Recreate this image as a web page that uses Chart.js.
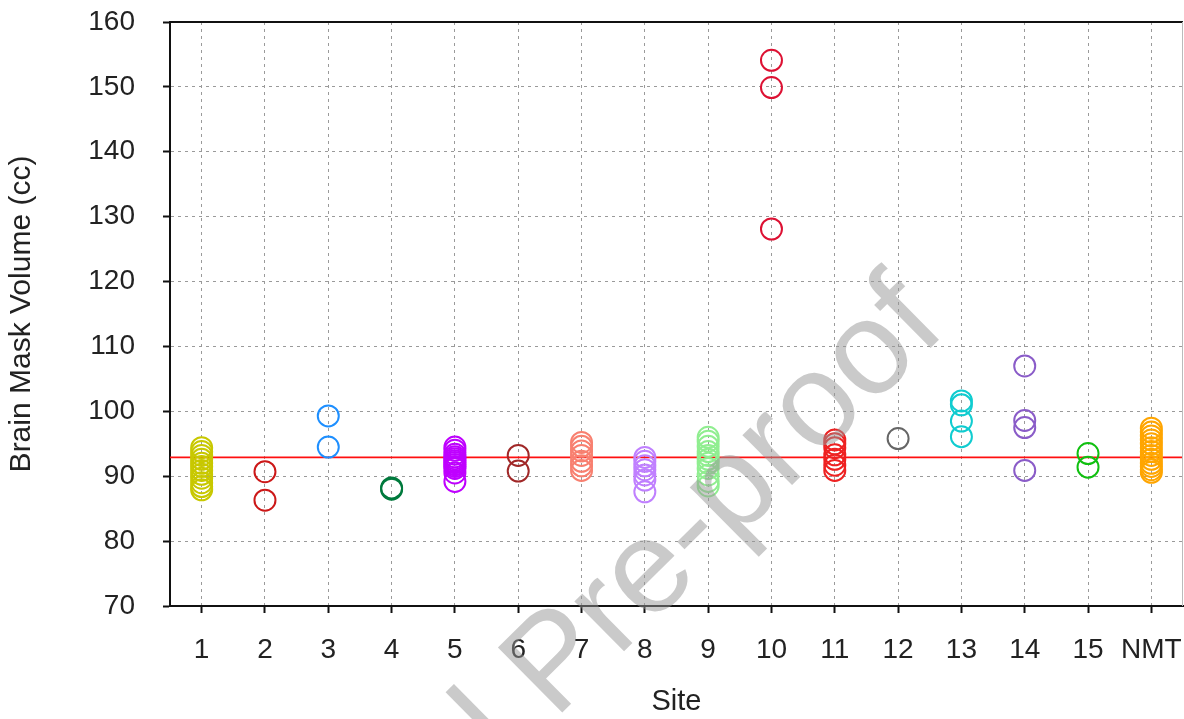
<!DOCTYPE html>
<html>
<head>
<meta charset="utf-8">
<script src="https://cdn.jsdelivr.net/npm/chart.js@4"></script>
<style>
  html, body { margin: 0; padding: 0; background: #fff; }
  #wrap { width: 1184px; height: 719px; }
</style>
</head>
<body>
<div id="wrap"><canvas id="volumeChart" width="1184" height="719"></canvas></div>
<script>
// sites along the x axis
const sites = ['1', '2', '3', '4', '5', '6', '7', '8', '9', '10', '11', '12', '13', '14', '15', 'NMT'];

// brain mask volumes (cc) per site
const vol1 = [94.4, 93.8, 93.2, 92.6, 92.0, 91.5, 90.9, 90.3, 89.7, 89.0, 88.4, 87.9];
const vol2 = [90.7, 86.3];
const vol3 = [99.3, 94.5];
const vol4 = [88.2, 88.0];
const vol5 = [94.5, 94.0, 93.4, 93.0, 92.7, 92.4, 92.1, 91.8, 91.5, 91.2, 90.5, 89.2];
const vol6 = [93.2, 90.8];
const vol7 = [95.2, 94.6, 93.9, 93.2, 92.3, 91.6, 90.9];
const vol8 = [92.9, 92.3, 91.6, 91.0, 90.2, 89.4, 87.6];
const vol9 = [96.0, 95.4, 94.6, 93.8, 93.2, 92.6, 92.0, 91.2, 90.2, 89.2, 88.5];
const vol10 = [154.1, 149.9, 128.1];
const vol11 = [95.6, 95.0, 94.4, 93.3, 92.6, 91.7, 90.9];
const vol12 = [95.8];
const vol13 = [101.6, 101.0, 98.5, 96.1];
const vol14 = [107.0, 98.6, 97.5, 90.9];
const vol15 = [93.5, 91.4];
const volNMT = [97.4, 96.8, 96.2, 95.6, 95.0, 94.4, 93.8, 93.2, 92.6, 92.0, 91.5, 91.0, 90.6];
const siteVolumes = [vol1, vol2, vol3, vol4, vol5, vol6, vol7, vol8, vol9, vol10, vol11, vol12, vol13, vol14, vol15, volNMT];

const meanVolume = 92.9; // red reference line

const yTicks = [70, 80, 90, 100, 110, 120, 130, 140, 150, 160];

const siteColors = [
    '#C8C800', // olive yellow
    '#CC1818', // red
    '#1E8FFF', // blue
    '#007A3D', // dark green
    '#BF00FF', // violet
    '#A02828', // brown
    '#F88070', // salmon
    '#C080FF', // lilac
    '#90EE90', // light green
    '#DD1133', // crimson
    '#EE2222', // red
    '#666666', // grey
    '#10CCD0', // turquoise
    '#8A5CC8', // purple
    '#10C010', // green
    '#FFA500', // orange
];

const FONT = "'Liberation Sans', Arial, sans-serif";

const datasets = siteVolumes.map((vols, i) => ({
    label: 'Site ' + sites[i],
    data: vols.map(v => ({ x: sites[i], y: v })),
    showLine: false,
    borderColor: siteColors[i],
    backgroundColor: 'rgba(0,0,0,0)',
    pointRadius: 10.5,
    pointBorderWidth: 2,
    pointHoverRadius: 10.5,
}));

const meanLinePlugin = {
    id: 'meanLine',
    beforeDatasetsDraw(chart) {
        const { ctx, chartArea, scales } = chart;
        const y = scales.y.getPixelForValue(meanVolume);
        ctx.save();
        ctx.strokeStyle = '#FF1010';
        ctx.lineWidth = 1.6;
        ctx.beginPath();
        ctx.moveTo(chartArea.left, y);
        ctx.lineTo(chartArea.right, y);
        ctx.stroke();
        ctx.restore();
    }
};

const framePlugin = {
    id: 'frame',
    afterDraw(chart) {
        const { ctx, chartArea } = chart;
        ctx.save();
        ctx.strokeStyle = '#111';
        ctx.lineWidth = 2;
        ctx.beginPath();
        ctx.moveTo(chartArea.left, chartArea.top);
        ctx.lineTo(chartArea.right, chartArea.top);
        ctx.stroke();
        ctx.strokeStyle = '#BBBBBB';
        ctx.lineWidth = 1;
        ctx.beginPath();
        ctx.moveTo(chartArea.right - 0.5, chartArea.top);
        ctx.lineTo(chartArea.right - 0.5, chartArea.bottom);
        ctx.stroke();

        // watermark
        ctx.font = '133px ' + FONT;
        ctx.fillStyle = 'rgba(150,150,150,0.5)';
        ctx.translate(218, 1053);
        ctx.rotate(-0.78);
        ctx.textBaseline = 'alphabetic';
        ctx.fillText('Journal Pre-proof', 0, 0);
        ctx.restore();
    }
};

new Chart(document.getElementById('volumeChart'), {
    type: 'line',
    data: { labels: sites, datasets: datasets },
    plugins: [meanLinePlugin, framePlugin],
    options: {
        responsive: false,
        animation: false,
        layout: { autoPadding: false, padding: { top: 22, right: 1, left: 0, bottom: 0 } },
        plugins: {
            legend: { display: false },
            tooltip: { enabled: false },
        },
        scales: {
            x: {
                type: 'category',
                offset: true,
                grid: {
                    offset: false,
                    color: '#9A9A9A',
                    lineWidth: 1,
                    tickColor: '#111',
                    tickLength: 7,
                    tickWidth: 2,
                    tickBorderDash: [],
                },
                border: { color: '#111', width: 2, dash: [3, 4] },
                ticks: {
                    color: '#222',
                    font: { family: FONT, size: 28, lineHeight: 2.45 },
                    padding: 3,
                    maxRotation: 0,
                    autoSkip: false,
                },
                title: {
                    display: true,
                    text: 'Site',
                    color: '#222',
                    font: { family: FONT, size: 29 },
                    padding: { top: 0, bottom: 0 },
                },
                afterFit(scale) {
                    scale.height = 113;
                    scale.paddingLeft = 0;
                    scale.paddingRight = 0;
                },
            },
            y: {
                min: 70,
                max: 160,
                afterBuildTicks(scale) { scale.ticks = yTicks.map(v => ({ value: v })); },
                grid: {
                    color: '#9A9A9A',
                    lineWidth: 1,
                    tickColor: '#111',
                    tickLength: 7,
                    tickWidth: 2,
                    tickBorderDash: [],
                },
                border: { color: '#111', width: 2, dash: [3, 4] },
                ticks: {
                    color: '#222',
                    font: { family: FONT, size: 28 },
                    padding: 28,
                },
                title: {
                    display: true,
                    text: 'Brain Mask Volume (cc)',
                    color: '#222',
                    font: { family: FONT, size: 30 },
                    padding: { top: 4, bottom: 0 },
                },
                afterFit(scale) {
                    scale.width = 170;
                    scale.paddingTop = 0;
                    scale.paddingBottom = 0;
                },
            }
        }
    }
});
</script>
</body>
</html>
